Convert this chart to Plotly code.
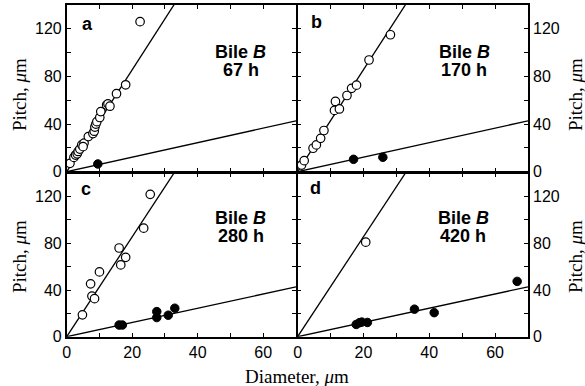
import plotly.graph_objects as go

W, H = 585, 386

# ---- data ----
steep_slope = 4.28
shallow_slope = 0.61
line_x = [0, 70]

a_open_x = [1.0, 2.2, 2.7, 3.2, 3.5, 4.0, 4.6, 5.3, 5.0, 6.6, 8.0, 8.4, 8.6, 8.9, 9.2, 10.1, 10.4, 12.2, 12.6, 13.2, 15.2, 18.0, 22.4]
a_open_y = [7, 12, 14, 15, 17, 19, 22.5, 24, 21, 29.5, 32, 34, 37.5, 40, 42, 45.5, 50.5, 56, 57, 55, 65.5, 73, 126]
a_fill_x = [9.5]
a_fill_y = [6.5]

b_open_x = [1.2, 2.0, 4.7, 5.7, 7.0, 8.0, 11.2, 11.5, 12.7, 15.0, 16.4, 17.9, 21.7, 28.2]
b_open_y = [5.6, 9.3, 19.7, 22.5, 28, 34.6, 51.5, 59, 52.7, 64, 70, 72.7, 93.8, 115]
b_fill_x = [17.0, 25.9]
b_fill_y = [10.4, 12.1]

c_open_x = [4.8, 7.3, 7.7, 8.5, 10.0, 16.0, 16.5, 18.0, 23.5, 25.5]
c_open_y = [18.7, 45.3, 34.8, 32.6, 55.5, 76, 61.5, 68, 93, 122]
c_fill_x = [16.0, 17.0, 27.5, 27.5, 31.0, 33.0]
c_fill_y = [10, 10, 21.5, 16.4, 18.4, 24.4]

d_open_x = [20.7]
d_open_y = [81]
d_fill_x = [17.8, 18.8, 19.5, 21.2, 35.5, 41.5, 66.7]
d_fill_y = [10.5, 12, 12.5, 12.2, 23.6, 20.6, 47.4]

panel_letters = ["a", "b", "c", "d"]
panel_times = ["67 h", "170 h", "280 h", "420 h"]

x_tickvals = [0, 10, 20, 30, 40, 50, 60, 70]
x_ticktext = ["0", "", "20", "", "40", "", "60", ""]
y_tickvals = [0, 20, 40, 60, 80, 100, 120, 140]
y_ticktext = ["0", "", "40", "", "80", "", "120", ""]

panels = [
    (a_open_x, a_open_y, a_fill_x, a_fill_y),
    (b_open_x, b_open_y, b_fill_x, b_fill_y),
    (c_open_x, c_open_y, c_fill_x, c_fill_y),
    (d_open_x, d_open_y, d_fill_x, d_fill_y),
]

def px(x):
    return x / W

def py(y):
    return 1 - y / H

LW = 1.6
xdom = [[px(66.7), px(296)], [px(296 + LW), px(528)]]
ydom = [[py(171.7), py(5)], [py(336.7), py(171.7 + LW)]]

fig = go.Figure()
SANS = "Liberation Sans, Arial, sans-serif"
SERIF = "Liberation Serif, Times New Roman, serif"

for i, (ox, oy, fx, fy) in enumerate(panels):
    n = "" if i == 0 else str(i + 1)
    xa, ya = "x" + n, "y" + n
    for s in (steep_slope, shallow_slope):
        fig.add_trace(go.Scatter(x=line_x, y=[s * v for v in line_x], mode="lines",
                                 line=dict(color="black", width=1.3),
                                 xaxis=xa, yaxis=ya, showlegend=False, hoverinfo="skip"))
    fig.add_trace(go.Scatter(x=ox, y=oy, mode="markers",
                             marker=dict(symbol="circle", size=8.5, color="white",
                                         line=dict(color="black", width=1.2)),
                             xaxis=xa, yaxis=ya, showlegend=False, cliponaxis=False))
    fig.add_trace(go.Scatter(x=fx, y=fy, mode="markers",
                             marker=dict(symbol="circle", size=8.5, color="black",
                                         line=dict(color="black", width=1)),
                             xaxis=xa, yaxis=ya, showlegend=False, cliponaxis=False))

    col, row = i % 2, i // 2
    xkey = "xaxis" + n
    ykey = "yaxis" + n
    common = dict(showline=True, linecolor="black", linewidth=LW, mirror="ticks",
                  ticks="inside", ticklen=4, tickwidth=1.2, tickcolor="black",
                  showgrid=False, zeroline=False, automargin=False,
                  tickfont=dict(family=SANS, size=16, color="black"))
    fig.layout[xkey] = dict(domain=xdom[col], range=[0, 70], tickvals=x_tickvals,
                            ticktext=x_ticktext, showticklabels=(row == 1),
                            anchor=ya, **common)
    fig.layout[ykey] = dict(domain=ydom[row], range=[0, 140], tickvals=y_tickvals,
                            ticktext=y_ticktext, showticklabels=True,
                            side="left" if col == 0 else "right",
                            anchor=xa, **common)

annotations = []
letter_pos = [(87, 24), (316, 22), (86, 189), (315, 188)]
text_x = [240.5, 464, 240.5, 463]
text_y0 = [51.5, 51.5, 218, 218]
for i in range(4):
    lx, ly = letter_pos[i]
    annotations.append(dict(x=px(lx), y=py(ly), xref="paper", yref="paper",
                            text="<b>" + panel_letters[i] + "</b>", showarrow=False,
                            font=dict(family=SANS, size=18, color="black"),
                            xanchor="center", yanchor="middle"))
    annotations.append(dict(x=px(text_x[i]), y=py(text_y0[i]), xref="paper", yref="paper",
                            text="<b>Bile <i>B</i></b>", showarrow=False,
                            font=dict(family=SANS, size=18, color="black"),
                            xanchor="center", yanchor="middle"))
    annotations.append(dict(x=px(text_x[i]), y=py(text_y0[i] + 18.5), xref="paper", yref="paper",
                            text="<b>" + panel_times[i] + "</b>", showarrow=False,
                            font=dict(family=SANS, size=18, color="black"),
                            xanchor="center", yanchor="middle"))

for (lx, ly) in [(19, 95), (19, 257), (575, 95), (575, 257)]:
    annotations.append(dict(x=px(lx), y=py(ly), xref="paper", yref="paper",
                            text="Pitch, <i>μ</i>m", showarrow=False, textangle=-90,
                            font=dict(family=SERIF, size=19, color="black"),
                            xanchor="center", yanchor="middle"))

annotations.append(dict(x=px(297), y=py(376), xref="paper", yref="paper",
                        text="Diameter, <i>μ</i>m", showarrow=False,
                        font=dict(family=SERIF, size=19, color="black"),
                        xanchor="center", yanchor="middle"))

fig.update_layout(width=W, height=H, margin=dict(l=0, r=0, t=0, b=0),
                  paper_bgcolor="white", plot_bgcolor="white",
                  annotations=annotations, showlegend=False)

fig.write_html("out.html", config={"displayModeBar": False},
               post_script="document.body.style.margin='0';document.body.style.overflow='hidden';")
